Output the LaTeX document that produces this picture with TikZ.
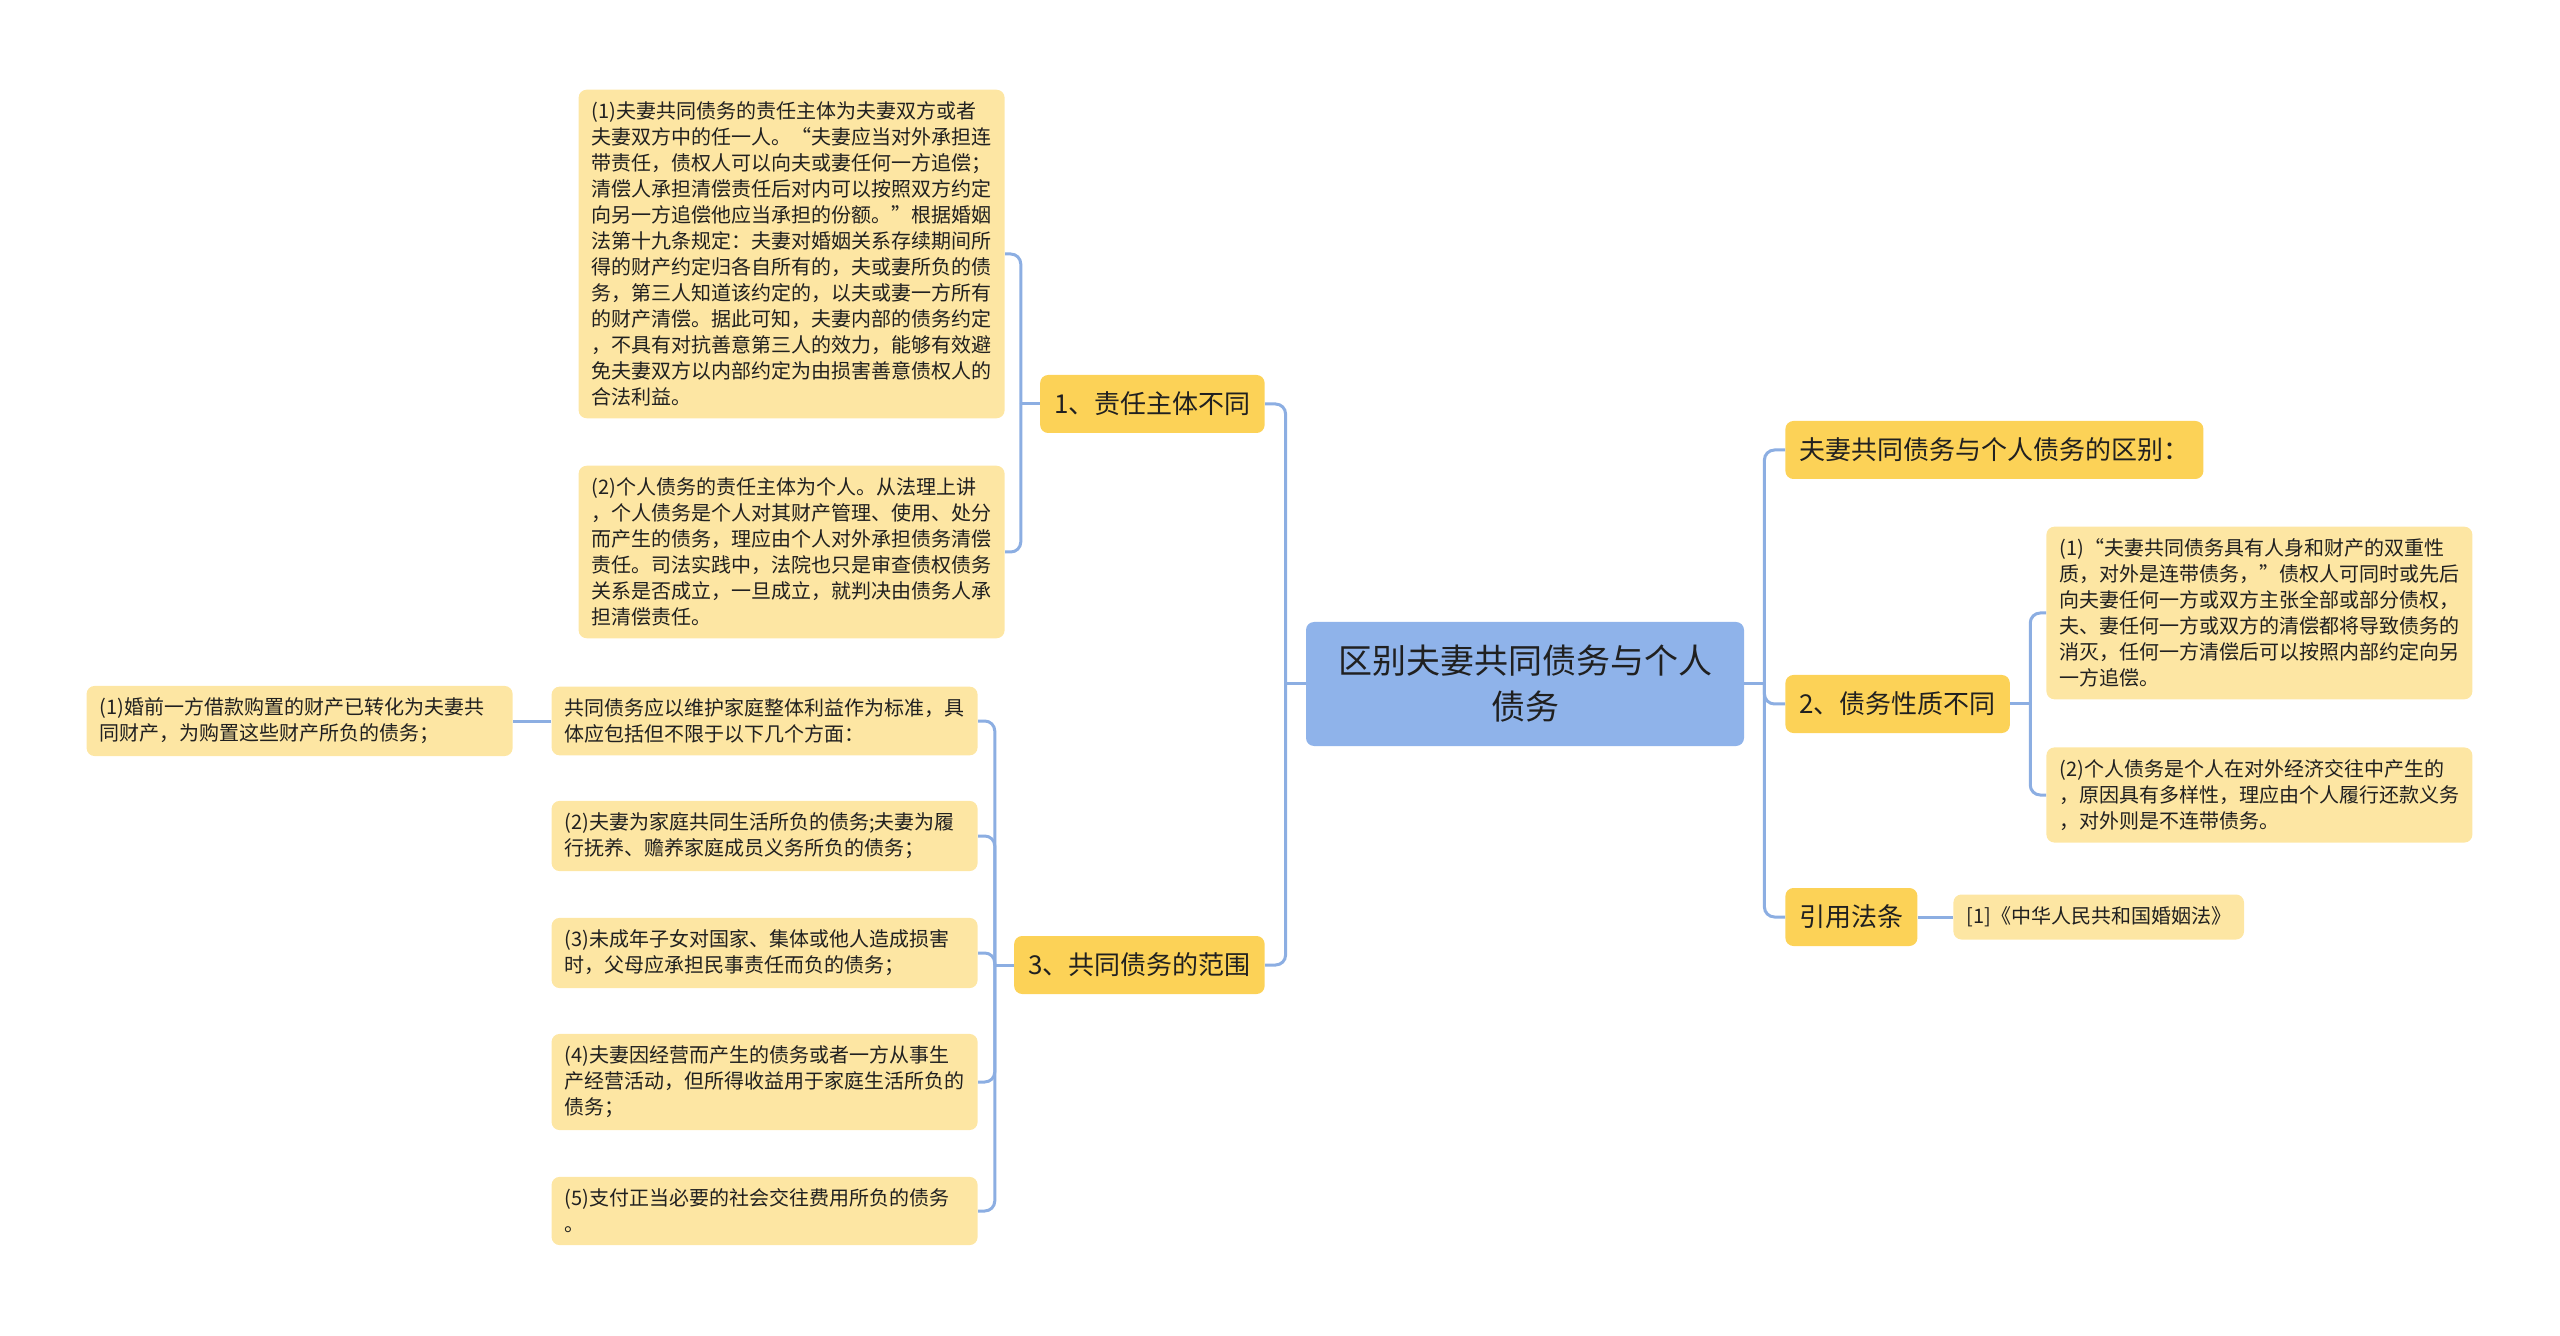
\documentclass[tikz,border=0pt]{standalone}
\usepackage{fontspec}
\setmainfont{Noto Sans CJK SC}
\usepackage{tikz}

\definecolor{rootblue}{HTML}{8FB3EA}
\definecolor{branchgold}{HTML}{FCD257}
\definecolor{leafyellow}{HTML}{FDE6A3}
\definecolor{linkblue}{HTML}{8CAEE2}
\definecolor{inkgray}{HTML}{202020}

\begin{document}
\begin{tikzpicture}[x=0.5pt, y=-0.5pt,
        rootbox/.style={fill=rootblue, rounded corners=4pt, text=inkgray, align=center,
            minimum width=219pt, minimum height=62pt,
            font=\fontsize{17pt}{23pt}\selectfont},
        branchbox/.style={fill=branchgold, rounded corners=4pt, text=inkgray,
            minimum height=29pt, inner xsep=7pt,
            font=\fontsize{13pt}{16pt}\selectfont},
        leafbox/.style={fill=leafyellow, rounded corners=4pt, text=inkgray, align=left,
            text width=200pt, inner xsep=6.5pt, inner ysep=6pt,
            font=\fontsize{10pt}{13pt}\selectfont},
        reflbox/.style={fill=leafyellow, rounded corners=4pt, text=inkgray,
            inner xsep=6.5pt, minimum height=22.5pt,
            font=\fontsize{10pt}{13pt}\selectfont},
        link/.style={draw=linkblue, line width=1.5pt, rounded corners=5pt}]
        \useasboundingbox (0,0) rectangle (2560,1336);

        \node[rootbox] (root) at (1525,684) {区别夫妻共同债务与个人\\债务};

        \node[branchbox, anchor=east] (b1) at (1265,404) {1、责任主体不同};
        \node[branchbox, anchor=east] (b3) at (1265,965) {3、共同债务的范围};
        \node[branchbox, anchor=west] (r1) at (1785,450) {夫妻共同债务与个人债务的区别：};
        \node[branchbox, anchor=west] (r2) at (1785,704) {2、债务性质不同};
        \node[branchbox, anchor=west] (r3) at (1785,917) {引用法条};

        \node[leafbox, anchor=east] (l1a) at (1005,254) {(1)夫妻共同债务的责任主体为夫妻双方或者\\
            夫妻双方中的任一人。“夫妻应当对外承担连\\
            带责任，债权人可以向夫或妻任何一方追偿；\\
            清偿人承担清偿责任后对内可以按照双方约定\\
            向另一方追偿他应当承担的份额。”根据婚姻\\
            法第十九条规定：夫妻对婚姻关系存续期间所\\
            得的财产约定归各自所有的，夫或妻所负的债\\
            务，第三人知道该约定的，以夫或妻一方所有\\
            的财产清偿。据此可知，夫妻内部的债务约定\\
            ，不具有对抗善意第三人的效力，能够有效避\\
            免夫妻双方以内部约定为由损害善意债权人的\\
            合法利益。};
        \node[leafbox, anchor=east] (l1b) at (1005,552) {(2)个人债务的责任主体为个人。从法理上讲\\
            ，个人债务是个人对其财产管理、使用、处分\\
            而产生的债务，理应由个人对外承担债务清偿\\
            责任。司法实践中，法院也只是审查债权债务\\
            关系是否成立，一旦成立，就判决由债务人承\\
            担清偿责任。};

        \node[leafbox, anchor=east] (l3a) at (978,721) {共同债务应以维护家庭整体利益作为标准，具\\
            体应包括但不限于以下几个方面：};
        \node[leafbox, anchor=east] (l3b) at (978,836) {(2)夫妻为家庭共同生活所负的债务;夫妻为履\\
            行抚养、赡养家庭成员义务所负的债务；};
        \node[leafbox, anchor=east] (l3c) at (978,953) {(3)未成年子女对国家、集体或他人造成损害\\
            时，父母应承担民事责任而负的债务；};
        \node[leafbox, anchor=east] (l3d) at (978,1082) {(4)夫妻因经营而产生的债务或者一方从事生\\
            产经营活动，但所得收益用于家庭生活所负的\\
            债务；};
        \node[leafbox, anchor=east] (l3e) at (978,1211) {(5)支付正当必要的社会交往费用所负的债务\\
            。};
        \node[leafbox, anchor=east] (lfar) at (513,721) {(1)婚前一方借款购置的财产已转化为夫妻共\\
            同财产，为购置这些财产所负的债务；};

        \node[leafbox, anchor=west] (l2a) at (2046,613) {(1)“夫妻共同债务具有人身和财产的双重性\\
            质，对外是连带债务，”债权人可同时或先后\\
            向夫妻任何一方或双方主张全部或部分债权，\\
            夫、妻任何一方或双方的清偿都将导致债务的\\
            消灭，任何一方清偿后可以按照内部约定向另\\
            一方追偿。};
        \node[leafbox, anchor=west] (l2b) at (2046,795) {(2)个人债务是个人在对外经济交往中产生的\\
            ，原因具有多样性，理应由个人履行还款义务\\
            ，对外则是不连带债务。};
        \node[reflbox, anchor=west] (lref) at (1953,917) {[1]《中华人民共和国婚姻法》};

        % root to branches
        \draw[link] (root.west) -- ++(-20,0) coordinate (jl);
        \draw[link] (jl) |- (b1.east);
        \draw[link] (jl) |- (b3.east);
        \draw[link] (root.east) -- ++(20,0) coordinate (jr);
        \draw[link] (jr) |- (r1.west);
        \draw[link] (jr) |- (r2.west);
        \draw[link] (jr) |- (r3.west);

        % branches to leaves
        \draw[link] (b1.west) -- ++(-19,0) coordinate (j1);
        \draw[link] (j1) |- (l1a.east);
        \draw[link] (j1) |- (l1b.east);
        \draw[link] (b3.west) -- ++(-19,0) coordinate (j3);
        \draw[link] (j3) |- (l3a.east);
        \draw[link] (j3) |- (l3b.east);
        \draw[link] (j3) |- (l3c.east);
        \draw[link] (j3) |- (l3d.east);
        \draw[link] (j3) |- (l3e.east);
        \draw[link] (l3a.west) -- (lfar.east);
        \draw[link] (r2.east) -- ++(20,0) coordinate (j2);
        \draw[link] (j2) |- (l2a.west);
        \draw[link] (j2) |- (l2b.west);
        \draw[link] (r3.east) -- (lref.west);
    \end{tikzpicture}
\end{document}
